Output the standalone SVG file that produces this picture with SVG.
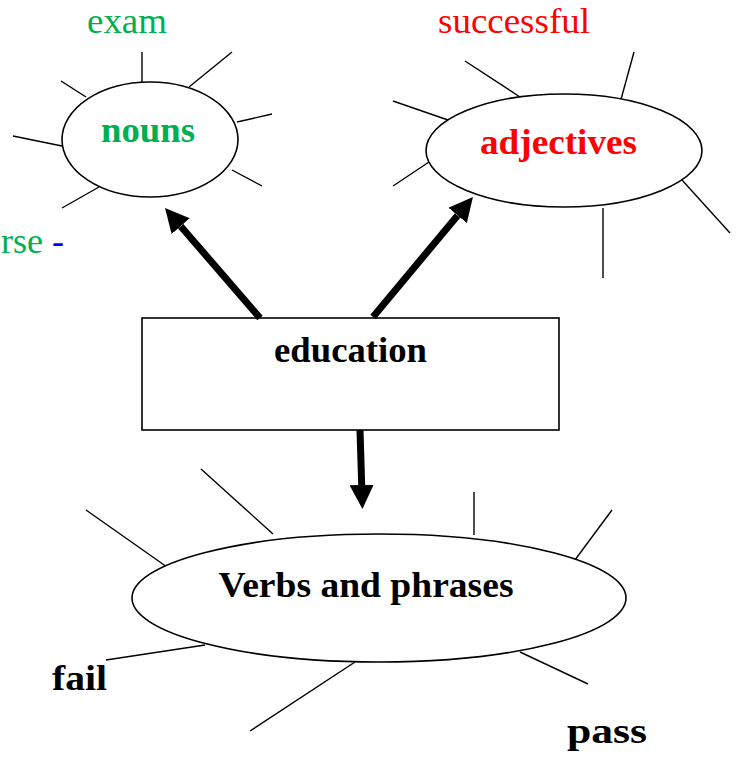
<svg xmlns="http://www.w3.org/2000/svg" width="736" height="758" viewBox="0 0 736 758">
  <style>
    .shape { fill: #ffffff; stroke: #000000; stroke-width: 1.6; }
    .spoke { stroke: #000000; stroke-width: 1.4; fill: none; }
    .arrow { stroke: #000000; stroke-width: 7; fill: none; }
    .t { font-family: "Liberation Serif", "Times New Roman", serif; font-size: 36px; }
    .b { font-weight: bold; }
    .green { fill: #00B050; }
    .red { fill: #FF0000; }
    .blue { fill: #0000FF; }
    .black { fill: #000000; }
  </style>
  <defs>
    <marker id="head" markerUnits="userSpaceOnUse" viewBox="0 0 24 24" markerWidth="24" markerHeight="24" refX="0" refY="12" orient="auto">
      <path d="M0,0 L24,12 L0,24 z" fill="#000000"/>
    </marker>
  </defs>

  <rect width="736" height="758" fill="#ffffff"/>

  <!-- loose words around the map -->
  <text class="t green" x="87" y="33" textLength="80" lengthAdjust="spacingAndGlyphs">exam</text>
  <text class="t red" x="438" y="33" textLength="152" lengthAdjust="spacingAndGlyphs">successful</text>
  <text class="t green" x="1" y="253">rse <tspan class="blue">-</tspan></text>
  <text class="t b black" x="52" y="690" textLength="55" lengthAdjust="spacingAndGlyphs">fail</text>
  <text class="t b black" x="567" y="743" textLength="80" lengthAdjust="spacingAndGlyphs">pass</text>

  <!-- nouns bubble -->
  <g id="nouns">
    <line class="spoke" x1="142" y1="52" x2="142" y2="86"/>
    <line class="spoke" x1="232" y1="52" x2="189" y2="87"/>
    <line class="spoke" x1="272" y1="114" x2="237" y2="122"/>
    <line class="spoke" x1="232" y1="170" x2="262" y2="186"/>
    <line class="spoke" x1="99" y1="187" x2="62" y2="208"/>
    <line class="spoke" x1="13" y1="136" x2="62" y2="146"/>
    <line class="spoke" x1="61" y1="81" x2="86" y2="97"/>
    <ellipse class="shape" cx="150" cy="139.5" rx="88" ry="57.5"/>
    <text class="t b green" x="148" y="142" text-anchor="middle" textLength="94" lengthAdjust="spacingAndGlyphs">nouns</text>
  </g>

  <!-- adjectives bubble -->
  <g id="adjectives">
    <line class="spoke" x1="465" y1="61" x2="520" y2="97"/>
    <line class="spoke" x1="634" y1="52" x2="620" y2="103"/>
    <line class="spoke" x1="393" y1="101" x2="448" y2="120"/>
    <line class="spoke" x1="393" y1="186" x2="432" y2="160"/>
    <line class="spoke" x1="682" y1="180" x2="730" y2="233"/>
    <line class="spoke" x1="603" y1="208" x2="603" y2="278"/>
    <ellipse class="shape" cx="564" cy="150.5" rx="138" ry="56.5"/>
    <text class="t b red" x="558.5" y="154" text-anchor="middle" textLength="157" lengthAdjust="spacingAndGlyphs">adjectives</text>
  </g>

  <!-- central word -->
  <g id="education">
    <rect class="shape" x="142" y="318" width="417" height="112"/>
    <text class="t b black" x="350.5" y="362" text-anchor="middle" textLength="153" lengthAdjust="spacingAndGlyphs">education</text>
  </g>

  <!-- verbs bubble -->
  <g id="verbs">
    <line class="spoke" x1="86" y1="510" x2="167" y2="567"/>
    <line class="spoke" x1="201" y1="469" x2="273" y2="534"/>
    <line class="spoke" x1="474" y1="492" x2="474" y2="535"/>
    <line class="spoke" x1="612" y1="510" x2="569" y2="568"/>
    <line class="spoke" x1="205" y1="645" x2="106" y2="660"/>
    <line class="spoke" x1="355" y1="662" x2="250" y2="731"/>
    <line class="spoke" x1="520" y1="652" x2="588" y2="684"/>
    <ellipse class="shape" cx="379" cy="598" rx="247" ry="64"/>
    <text class="t b black" x="366" y="597" text-anchor="middle" textLength="295" lengthAdjust="spacingAndGlyphs">Verbs and phrases</text>
  </g>

  <!-- arrows from the central word -->
  <g id="connectors">
    <line class="arrow" x1="260" y1="318" x2="180.7" y2="226.2" marker-end="url(#head)"/>
    <line class="arrow" x1="373" y1="317" x2="457.6" y2="215.4" marker-end="url(#head)"/>
    <line class="arrow" x1="360" y1="430" x2="361.7" y2="485" marker-end="url(#head)"/>
  </g>
</svg>
